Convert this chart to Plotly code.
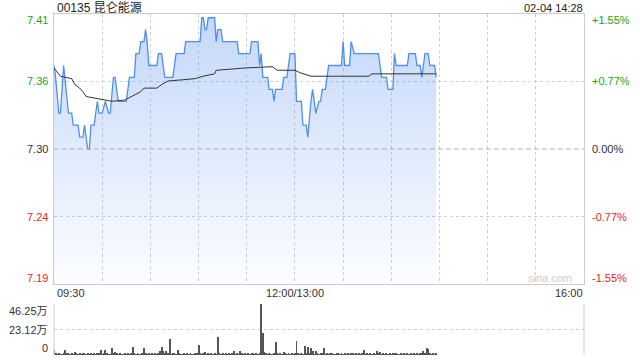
import plotly.graph_objects as go

# ---------------- data ----------------
stock_title = "00135 昆仑能源"
timestamp = "02-04 14:28"
prev_close = 7.30
pct_levels = [0.0155, 0.00775, 0.0, -0.00775, -0.0155]
left_labels = ["7.41", "7.36", "7.30", "7.24", "7.19"]
right_labels = ["+1.55%", "+0.77%", "0.00%", "-0.77%", "-1.55%"]
time_ticks = [0, 150, 330]
time_labels = ["09:30", "12:00/13:00", "16:00"]
vol_ticks = [46.25, 23.12, 0]
vol_labels = ["46.25万", "23.12万", "0"]

# price vertices (minute index from 09:30, lunch removed)
price_min = [0, 1, 3, 4, 6, 8, 9, 11, 12, 15, 16, 18, 19, 20, 21, 22, 23, 25, 26, 27,
             28, 30, 32, 34, 35, 37, 38, 39, 40, 45, 47, 50, 51, 53, 54, 56, 57, 58, 59, 64,
             65, 67, 68, 69, 74, 75, 76, 81, 82, 91, 92, 93, 94, 95, 96, 100, 101, 102, 104, 105,
             114, 115, 122, 123, 127, 128, 129, 130, 133, 134, 136, 137, 138, 142, 143, 145, 146, 147, 150, 151,
             154, 155, 157, 158, 160, 161, 163, 165, 166, 167, 169, 170, 171, 179, 180, 181, 184, 185, 187, 202,
             203, 204, 207, 208, 211, 212, 213, 220, 221, 225, 226, 228, 229, 230, 231, 233, 234, 237, 238]
price_val = [7.37, 7.36, 7.33, 7.33, 7.37, 7.34, 7.33, 7.33, 7.32, 7.32, 7.31, 7.31, 7.32, 7.31, 7.30, 7.30, 7.32, 7.32, 7.33, 7.34,
             7.33, 7.33, 7.34, 7.33, 7.33, 7.36, 7.36, 7.35, 7.34, 7.34, 7.36, 7.36, 7.38, 7.38, 7.39, 7.39, 7.40, 7.39, 7.37, 7.37,
             7.38, 7.38, 7.37, 7.36, 7.36, 7.37, 7.38, 7.38, 7.39, 7.39, 7.41, 7.41, 7.40, 7.40, 7.41, 7.41, 7.39, 7.40, 7.40, 7.39,
             7.39, 7.38, 7.38, 7.39, 7.39, 7.37, 7.38, 7.36, 7.36, 7.35, 7.35, 7.34, 7.35, 7.35, 7.36, 7.36, 7.37, 7.38, 7.38, 7.34,
             7.34, 7.32, 7.32, 7.31, 7.34, 7.35, 7.33, 7.34, 7.34, 7.35, 7.35, 7.36, 7.37, 7.37, 7.39, 7.37, 7.37, 7.39, 7.38, 7.38,
             7.37, 7.36, 7.36, 7.35, 7.35, 7.38, 7.37, 7.37, 7.38, 7.38, 7.37, 7.37, 7.36, 7.37, 7.38, 7.38, 7.37, 7.37, 7.36]

# average price vertices
avg_min = [0, 4, 11, 13, 16, 18, 20, 29, 36, 44, 48, 54, 56, 64, 67, 71, 80, 88, 93, 100,
           101, 110, 120, 136, 139, 150, 153, 160, 196, 198, 238]
avg_val = [7.368, 7.361, 7.359, 7.354, 7.351, 7.348, 7.344, 7.342, 7.340, 7.341, 7.344, 7.348, 7.351, 7.351, 7.354, 7.357, 7.358, 7.359, 7.361, 7.363,
           7.366, 7.367, 7.368, 7.369, 7.366, 7.366, 7.364, 7.361, 7.361, 7.363, 7.363]

# volume per minute (万)
volume = [4.9, 1.2, 0.8, 2.0, 0.9, 0.7, 1.1, 4.9, 1.3, 1.5,
          0.9, 1.2, 0.8, 3.0, 1.0, 0.7, 1.5, 0.9, 2.0, 1.1,
          0.8, 1.3, 0.6, 1.0, 0.9, 1.2, 0.7, 1.4, 1.0, 4.9,
          0.8, 1.1, 4.9, 1.0, 0.6, 0.9, 5.9, 1.2, 2.5, 1.0,
          0.7, 1.3, 0.9, 0.8, 1.1, 0.6, 1.0, 0.9, 1.2, 7.7,
          1.1, 0.8, 1.4, 0.9, 0.7, 1.0, 6.8, 1.2, 0.9, 1.5,
          0.8, 1.1, 0.7, 1.3, 0.9, 1.2, 3.4, 7.7, 3.4, 1.0,
          3.4, 1.1, 14.2, 0.9, 1.3, 2.0, 0.8, 4.9, 1.2, 0.9,
          0.7, 1.0, 0.8, 1.1, 0.6, 1.2, 0.9, 0.7, 1.0, 1.3,
          8.9, 1.1, 0.8, 1.4, 2.5, 0.9, 1.0, 0.7, 1.2, 0.8,
          1.0, 0.9, 16.3, 1.2, 0.8, 1.1, 0.7, 1.0, 0.9, 1.3,
          0.8, 1.0, 4.0, 0.9, 1.2, 0.7, 4.0, 1.1, 0.8, 1.0,
          0.9, 1.2, 0.7, 2.0, 1.0, 0.8, 1.1, 0.9, 1.3, 46.25,
          20.3, 3.0, 1.0, 0.8, 1.2, 0.9, 0.7, 1.1, 11.7, 1.0,
          0.8, 1.2, 0.9, 3.0, 1.0, 0.7, 1.1, 0.9, 1.2, 0.8,
          1.0, 12.3, 1.1, 0.9, 1.3, 0.8, 8.6, 1.0, 7.1, 1.2,
          6.2, 4.0, 0.9, 4.0, 1.1, 0.8, 1.0, 1.2, 6.2, 0.9,
          1.0, 0.7, 1.1, 2.0, 0.9, 0.8, 1.2, 1.0, 0.7, 1.3,
          0.9, 1.0, 0.8, 1.2, 0.7, 1.0, 2.0, 0.9, 1.1, 0.8,
          1.0, 0.7, 1.2, 4.9, 0.9, 1.0, 0.8, 1.1, 0.7, 1.0,
          0.9, 4.0, 1.1, 3.0, 0.8, 1.0, 0.7, 1.2, 0.9, 1.0,
          0.8, 2.0, 2.0, 1.1, 0.9, 0.7, 1.0, 0.8, 1.2, 0.9,
          1.0, 0.7, 1.1, 0.8, 1.0, 0.9, 1.2, 0.8, 1.0, 2.0,
          4.0, 1.1, 6.2, 5.2, 1.0, 0.8, 1.2, 0.9, 1.0]
vol_min = list(range(len(volume)))

# ---------------- figure ----------------
W, H = 640, 360
def px(x):
    return x / W
def py(y):
    return 1 - y / H

FONT = "Liberation Sans, Arial, Noto Sans CJK SC, sans-serif"
levels = [prev_close * (1 + p) for p in pct_levels]
ymin, ymax = levels[-1], levels[0]

fig = go.Figure()

fig.add_trace(go.Scatter(
    x=price_min, y=price_val, mode="lines",
    line=dict(color="#4f8ef0", width=1.3),
    fill="tozeroy",
    fillgradient=dict(type="vertical", start=ymin, stop=ymax,
                      colorscale=[[0, "rgba(90,145,240,0.02)"], [1, "rgba(90,145,240,0.36)"]]),
    hoverinfo="skip", showlegend=False, xaxis="x", yaxis="y"))

fig.add_trace(go.Scatter(
    x=avg_min, y=avg_val, mode="lines",
    line=dict(color="#333333", width=1),
    hoverinfo="skip", showlegend=False, xaxis="x", yaxis="y"))

fig.add_trace(go.Bar(
    x=vol_min, y=volume, width=0.6,
    marker=dict(color="#555555", line=dict(width=0)),
    hoverinfo="skip", showlegend=False, xaxis="x2", yaxis="y2"))

grid_t = list(range(0, 331, 30))

fig.update_layout(
    width=W, height=H, autosize=False,
    margin=dict(l=0, r=0, t=0, b=0),
    paper_bgcolor="white", plot_bgcolor="white",
    bargap=0,
    xaxis=dict(domain=[px(54), px(584)], range=[0, 330], anchor="y",
               tickvals=grid_t, showticklabels=False, ticks="",
               showgrid=True, gridcolor="#cfcfcf", griddash="dot", gridwidth=1,
               zeroline=False, showline=True, linecolor="#cccccc", mirror=True, linewidth=1),
    yaxis=dict(domain=[py(284), py(14)], range=[ymin, ymax], anchor="x",
               tickvals=[levels[1], levels[3]], showticklabels=False, ticks="",
               showgrid=True, gridcolor="#cfcfcf", griddash="dot", gridwidth=1,
               zeroline=False, showline=True, linecolor="#cccccc", mirror=True, linewidth=1),
    xaxis2=dict(domain=[px(54), px(584)], range=[0, 330], anchor="y2",
                showticklabels=False, ticks="", showgrid=False, zeroline=False,
                showline=False),
    yaxis2=dict(domain=[py(355), py(304)], range=[0, vol_ticks[0]], anchor="x2",
                tickvals=vol_ticks, showticklabels=False, ticks="",
                showgrid=True, gridcolor="#cfcfcf", griddash="dot", gridwidth=1,
                zeroline=False, showline=False),
)

shapes = [
    # previous close dashed line
    dict(type="line", xref="x", yref="y", x0=0, x1=330, y0=prev_close, y1=prev_close,
         line=dict(color="#b0b0b0", width=1, dash="5px,3px")),
    # volume panel left/right borders
    dict(type="line", xref="paper", yref="paper", x0=px(54), x1=px(54), y0=py(355), y1=py(304),
         line=dict(color="#cccccc", width=1)),
    dict(type="line", xref="paper", yref="paper", x0=px(584), x1=px(584), y0=py(355), y1=py(304),
         line=dict(color="#cccccc", width=1)),
]
fig.update_layout(shapes=shapes)

ann = []
txt = dict(family=FONT, size=11, color="#333333")
ann.append(dict(text=stock_title, xref="paper", yref="paper", x=px(55), y=py(8),
                xanchor="left", yanchor="middle", showarrow=False,
                font=dict(family=FONT, size=12, color="#222222")))
ann.append(dict(text=timestamp, xref="paper", yref="paper", x=px(585), y=py(8),
                xanchor="right", yanchor="middle", showarrow=False,
                font=dict(family=FONT, size=11, color="#222222")))

for i, (lv, lt, rt) in enumerate(zip(levels, left_labels, right_labels)):
    if pct_levels[i] > 0:
        col = "#1aa31a"
    elif pct_levels[i] < 0:
        col = "#e8261c"
    else:
        col = "#333333"
    shift = -6 if i == 0 else (6 if i == len(levels) - 1 else 0)
    ann.append(dict(text=lt, xref="paper", yref="y", x=px(50), y=lv, yshift=shift,
                    xanchor="right", yanchor="middle", showarrow=False,
                    font=dict(family=FONT, size=11, color=col)))
    ann.append(dict(text=rt, xref="paper", yref="y", x=px(590), y=lv, yshift=shift,
                    xanchor="left", yanchor="middle", showarrow=False,
                    font=dict(family=FONT, size=11, color=col)))

anchors = ["left", "center", "right"]
xs = [px(55), None, px(585)]
for t, lab, anc, xx in zip(time_ticks, time_labels, anchors, xs):
    if xx is None:
        ann.append(dict(text=lab, xref="x", yref="paper", x=t, y=py(293),
                        xanchor=anc, yanchor="middle", showarrow=False, font=txt))
    else:
        ann.append(dict(text=lab, xref="paper", yref="paper", x=xx, y=py(293),
                        xanchor=anc, yanchor="middle", showarrow=False, font=txt))

for i, (v, lab) in enumerate(zip(vol_ticks, vol_labels)):
    shift = -7 if i == 0 else (7 if i == len(vol_ticks) - 1 else 0)
    ann.append(dict(text=lab, xref="paper", yref="y2", x=px(50), y=v, yshift=shift,
                    xanchor="right", yanchor="middle", showarrow=False, font=txt))

ann.append(dict(text="sina.com", xref="paper", yref="paper", x=px(574), y=py(278),
                xanchor="right", yanchor="middle", showarrow=False,
                font=dict(family=FONT, size=11, color="#cccccc")))

fig.update_layout(annotations=ann)

fig.write_html("out.html")
